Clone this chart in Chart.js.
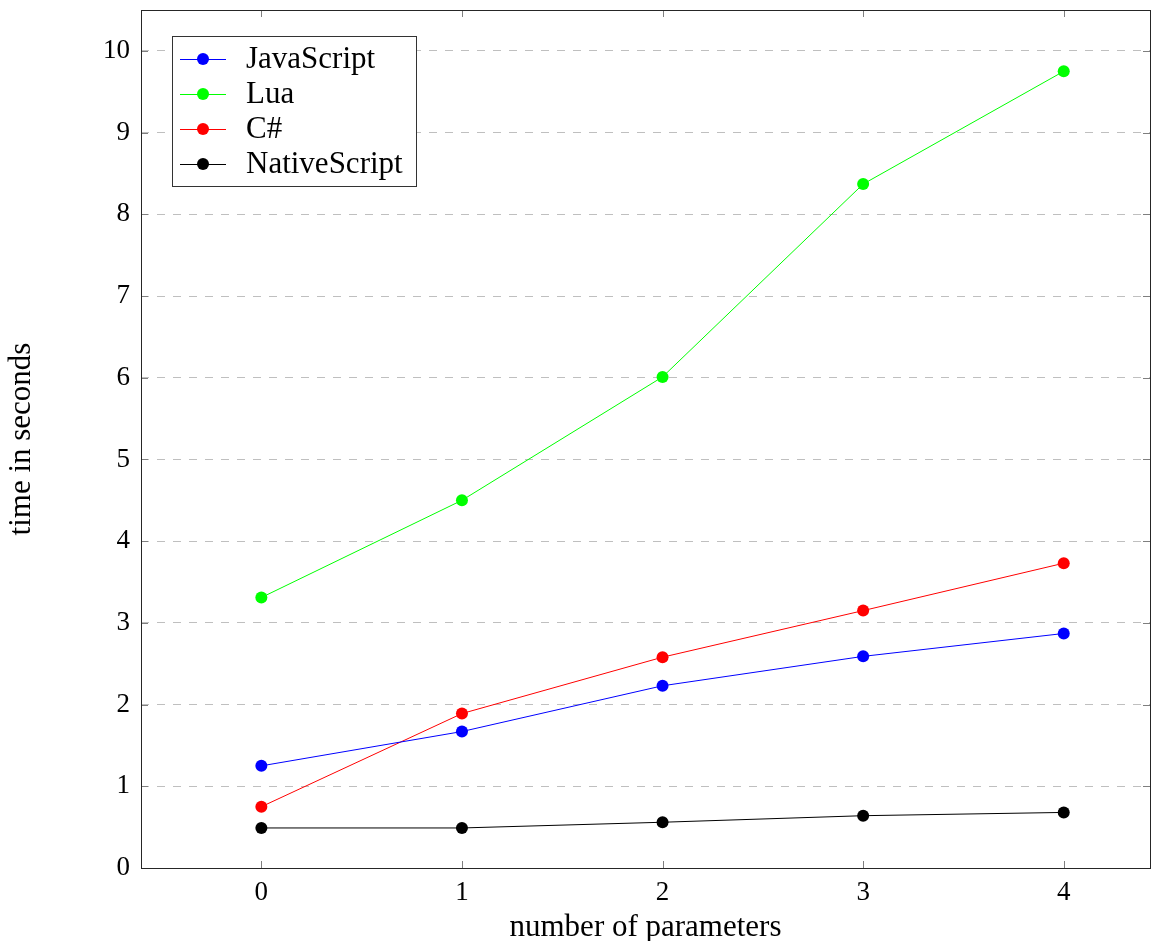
<!DOCTYPE html>
<html>
<head>
<meta charset="utf-8">
<script src="https://cdn.jsdelivr.net/npm/chart.js@4/dist/chart.umd.min.js"></script>
<style>
  html, body { margin: 0; padding: 0; background: #fff; }
  canvas { display: block; }
</style>
</head>
<body>
<canvas id="chart" width="1151" height="941"></canvas>
<script>
// values
const params = [0, 1, 2, 3, 4];
const jsTimes = [1.25, 1.67, 2.23, 2.59, 2.87];
const luaTimes = [3.31, 4.50, 6.01, 8.37, 9.75];
const csTimes = [0.75, 1.89, 2.58, 3.15, 3.73];
const nativeTimes = [0.49, 0.49, 0.56, 0.64, 0.68];
const yTicks = [0, 1, 2, 3, 4, 5, 6, 7, 8, 9, 10];

const FONT = "'Liberation Serif', 'DejaVu Serif', serif";
const TICK_SIZE = 27;
const TEXT_SIZE = 31;

const series = [
  { label: "JavaScript", values: jsTimes, color: "#0000ff" },
  { label: "Lua", values: luaTimes, color: "#00ff00" },
  { label: "C#", values: csTimes, color: "#ff0000" },
  { label: "NativeScript", values: nativeTimes, color: "#000000" },
];

const datasets = series.map((s) => ({
  label: s.label,
  data: params.map((p, i) => ({ x: p, y: s.values[i] })),
  borderColor: s.color,
  backgroundColor: s.color,
  borderWidth: 1,
  pointRadius: 6,
  pointHoverRadius: 6,
  pointBorderWidth: 0,
  showLine: true,
  tension: 0,
}));

// frame, inward ticks and the boxed legend, pgfplots style
const framePlugin = {
  id: "frame",
  afterDatasetsDraw(chart) {
    const { ctx, chartArea: a, scales } = chart;
    ctx.save();
    ctx.lineWidth = 1;
    ctx.strokeStyle = "#7f7f7f";
    params.forEach((p) => {
      const x = Math.round(scales.x.getPixelForValue(p)) + 0.5;
      ctx.beginPath();
      ctx.moveTo(x, a.bottom); ctx.lineTo(x, a.bottom - 7);
      ctx.moveTo(x, a.top); ctx.lineTo(x, a.top + 7);
      ctx.stroke();
    });
    yTicks.forEach((v) => {
      const y = Math.round(scales.y.getPixelForValue(v)) + 0.5;
      ctx.beginPath();
      ctx.moveTo(a.left, y); ctx.lineTo(a.left + 7, y);
      ctx.moveTo(a.right, y); ctx.lineTo(a.right - 7, y);
      ctx.stroke();
    });
    ctx.strokeStyle = "#262626";
    ctx.strokeRect(Math.round(a.left) + 0.5, Math.round(a.top) + 0.5,
      Math.round(a.right - a.left), Math.round(a.bottom - a.top));

    // legend
    const lx = 172, ly = 36, lw = 244, lh = 150;
    ctx.fillStyle = "#fff";
    ctx.fillRect(lx, ly, lw, lh);
    ctx.strokeStyle = "#333";
    ctx.strokeRect(lx + 0.5, ly + 0.5, lw, lh);
    ctx.font = TEXT_SIZE + "px " + FONT;
    ctx.textBaseline = "middle";
    chart.data.datasets.forEach((ds, i) => {
      const cy = ly + 23 + i * 35;
      ctx.strokeStyle = ds.borderColor;
      ctx.beginPath();
      ctx.moveTo(180, cy + 0.5); ctx.lineTo(226, cy + 0.5);
      ctx.stroke();
      ctx.fillStyle = ds.backgroundColor;
      ctx.beginPath();
      ctx.arc(203, cy, 6, 0, Math.PI * 2);
      ctx.fill();
      ctx.fillStyle = "#000";
      ctx.fillText(ds.label, 246, cy + 1);
    });
    ctx.restore();
  },
};

new Chart(document.getElementById("chart"), {
  type: "scatter",
  data: { datasets },
  plugins: [framePlugin],
  options: {
    responsive: false,
    animation: false,
    devicePixelRatio: 1,
    layout: { autoPadding: false, padding: { top: 10, right: 1, left: 0, bottom: 0 } },
    plugins: { legend: { display: false }, tooltip: { enabled: false } },
    scales: {
      x: {
        type: "linear",
        min: -0.6,
        max: 4.43,
        afterBuildTicks: (axis) => { axis.ticks = params.map((v) => ({ value: v })); },
        afterFit: (axis) => {
          axis.height = 73;
          axis.paddingLeft = 0;
          axis.paddingRight = 0;
        },
        grid: { display: false, drawTicks: false },
        border: { display: false },
        ticks: { padding: 9, color: "#000", font: { family: FONT, size: TICK_SIZE } },
        title: {
          display: true,
          text: "number of parameters",
          color: "#000",
          font: { family: FONT, size: TEXT_SIZE },
          padding: { top: -5, bottom: -5 },
        },
      },
      y: {
        min: 0,
        max: 10.5,
        afterBuildTicks: (axis) => { axis.ticks = yTicks.map((v) => ({ value: v })); },
        afterFit: (axis) => {
          axis.width = 141;
          axis.paddingTop = 0;
          axis.paddingBottom = 0;
        },
        grid: {
          drawTicks: false,
          color: "#bfbfbf",
          lineWidth: 1,
        },
        border: { display: false, dash: [8, 8] },
        ticks: { padding: 11, color: "#000", font: { family: FONT, size: TICK_SIZE } },
        title: {
          display: true,
          text: "time in seconds",
          color: "#000",
          font: { family: FONT, size: TEXT_SIZE },
          padding: { top: 3, bottom: 3 },
        },
      },
    },
  },
});
</script>
</body>
</html>
